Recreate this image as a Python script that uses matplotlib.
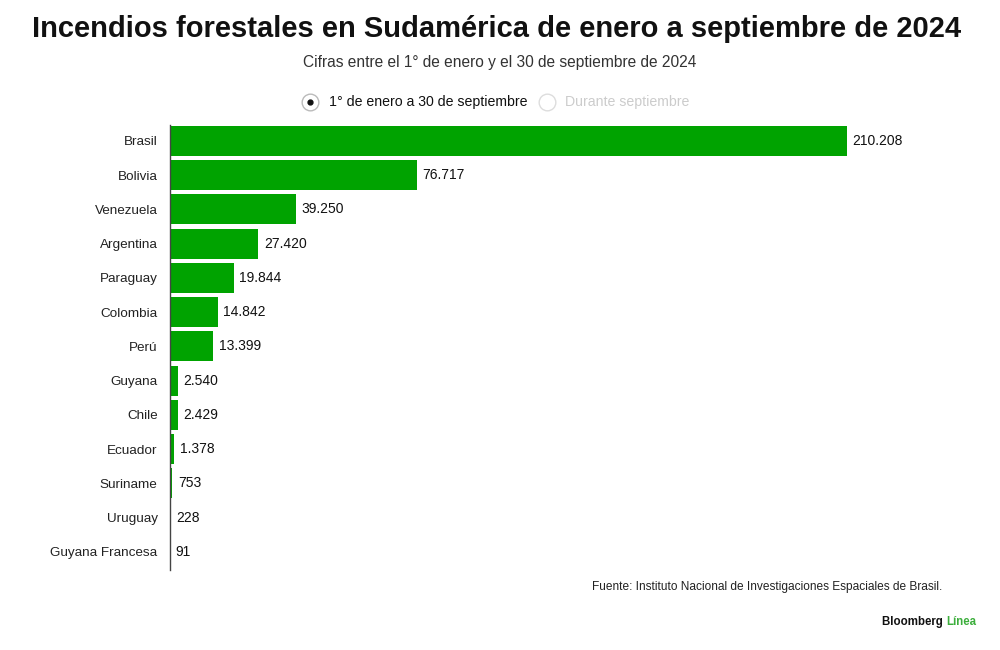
import matplotlib.pyplot as plt
from matplotlib import font_manager
from matplotlib.lines import Line2D

paises = ["Brasil", "Bolivia", "Venezuela", "Argentina", "Paraguay", "Colombia",
          "Perú", "Guyana", "Chile", "Ecuador", "Suriname", "Uruguay",
          "Guyana Francesa"]
incendios = [210208, 76717, 39250, 27420, 19844, 14842, 13399, 2540, 2429,
             1378, 753, 228, 91]

titulo = "Incendios forestales en Sudamérica de enero a septiembre de 2024"
subtitulo = "Cifras entre el 1° de enero y el 30 de septiembre de 2024"
opciones = ["1° de enero a 30 de septiembre", "Durante septiembre"]
fuente = "Fuente: Instituto Nacional de Investigaciones Espaciales de Brasil."

verde = "#00a300"
plt.rcParams['font.family'] = ['Liberation Sans', 'DejaVu Sans']

nombres = {f.name for f in font_manager.fontManager.ttflist}
fam_titulo = "Liberation Sans Narrow" if "Liberation Sans Narrow" in nombres else "Liberation Sans"

fig = plt.figure(figsize=(10, 6.5), dpi=100)
ax = fig.add_axes([0.17, 0.123, 0.677, 0.685])

pos = list(range(len(paises)))
ax.barh(pos, incendios, height=0.88, color=verde)
ax.set_xlim(0, max(incendios))
ax.set_ylim(12.53, -0.47)

for p, v in zip(pos, incendios):
    ax.text(v + 1700, p, f"{v:,}".replace(",", "."), va="center", ha="left",
            fontsize=10, color="#111111", clip_on=False)

ax.set_yticks(pos)
ax.set_yticklabels(paises, fontsize=9.7, color="#222222")
ax.tick_params(axis="y", length=0, pad=9)
ax.set_xticks([])
for s in ["top", "right", "bottom"]:
    ax.spines[s].set_visible(False)
ax.spines["left"].set_color("#444444")
ax.spines["left"].set_linewidth(1)

# titulo ajustado al ancho del original (~930 px)
tt = fig.text(0.497, 0.955, titulo, ha="center", va="center", fontsize=26,
              fontweight="bold", color="#111111", family=fam_titulo)
fig.canvas.draw()
ancho = tt.get_window_extent().width
tt.set_fontsize(26 * 930 / ancho)

fig.text(0.5, 0.904, subtitulo, ha="center", va="center", fontsize=11.2,
         color="#333333")

# selector tipo radio
fig.add_artist(Line2D([0.310], [0.843], marker="o", markersize=12,
                      markerfacecolor="white", markeredgecolor="#bbbbbb",
                      markeredgewidth=1, transform=fig.transFigure))
fig.add_artist(Line2D([0.310], [0.843], marker="o", markersize=3.5,
                      color="#111111", transform=fig.transFigure))
fig.text(0.329, 0.843, opciones[0], ha="left", va="center", fontsize=10.2,
         color="#111111")
fig.add_artist(Line2D([0.547], [0.843], marker="o", markersize=12,
                      markerfacecolor="white", markeredgecolor="#dddddd",
                      markeredgewidth=1, transform=fig.transFigure))
fig.text(0.565, 0.843, opciones[1], ha="left", va="center", fontsize=10.2,
         color="#cccccc")

# pie
fig.text(0.942, 0.097, fuente, ha="right", va="center", fontsize=8.6,
         color="#222222")
t1 = fig.text(0.882, 0.043, "Bloomberg ", ha="left", va="center", fontsize=8.3,
              fontweight="bold", color="#111111")
fig.canvas.draw()
bb = t1.get_window_extent()
fig.text(bb.x1 / fig.bbox.width, 0.043, "Línea", ha="left", va="center",
         fontsize=8.3, fontweight="bold", color="#3cae3c")

fig.savefig("out.png", dpi=100, facecolor="white")
